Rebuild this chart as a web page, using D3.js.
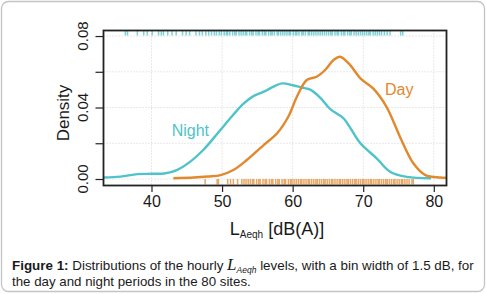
<!DOCTYPE html>
<html>
<head>
<meta charset="utf-8">
<script src="https://cdn.jsdelivr.net/npm/d3@7"></script>
<style>
  html, body { margin: 0; padding: 0; background: #fff; }
  svg { display: block; }
</style>
</head>
<body>
<svg id="chart" width="486" height="294"></svg>
<script>
(function () {
  'use strict';

  // axis ticks
  const xTicks = [40, 50, 60, 70, 80];
  const yTicks = [0, 0.02, 0.04, 0.06, 0.08];
  const yTickLabels = ['0.00', '', '0.04', '', '0.08'];

  // density curves: [dB, density]
  const nightDensity = [
    [33.2, 0.0008], [35.6, 0.0013], [38.0, 0.0027], [40.0, 0.0029], [41.8, 0.0031],
    [43.6, 0.0050], [45.5, 0.0097], [47.4, 0.0165], [49.5, 0.0262], [51.5, 0.0355],
    [53.0, 0.0420], [54.5, 0.0465], [56.0, 0.0490], [56.8, 0.0507], [58.5, 0.0535],
    [59.9, 0.0526], [61.3, 0.0512], [62.5, 0.0500], [63.9, 0.0455], [65.3, 0.0392],
    [67.2, 0.0340], [68.1, 0.0290], [69.6, 0.0200], [71.9, 0.0116], [73.8, 0.0041],
    [76.2, 0.0012], [79.6, 0.0004]
  ];
  const dayDensity = [
    [43.1, 0.0004], [46.0, 0.0008], [48.0, 0.0014], [49.8, 0.0022], [51.6, 0.0050],
    [53.5, 0.0106], [55.9, 0.0190], [57.8, 0.0256], [59.4, 0.0350], [60.6, 0.0460],
    [62.0, 0.0554], [63.4, 0.0572], [64.6, 0.0610], [65.8, 0.0666], [66.7, 0.0684],
    [68.1, 0.0640], [69.6, 0.0563], [71.4, 0.0507], [73.3, 0.0404], [75.2, 0.0237],
    [77.1, 0.0088], [78.8, 0.0022], [80.9, 0.0008], [81.8, 0.0006]
  ];

  // hourly levels shown as rugs (night on top, day at bottom)
  const nightRug = [
    36.3, 36.6, 38.0, 38.9, 39.4, 40.1, 41.0, 41.4, 41.7, 42.3, 42.9, 43.5, 44.4, 44.9,
    45.4, 46.3, 46.8, 47.2, 47.7, 48.1, 48.5, 48.9, 49.2, 49.6, 49.9, 50.3, 50.6, 50.8,
    51.1, 51.5, 51.8, 52.0, 52.4, 52.7, 53.0, 53.3, 53.5, 53.9, 54.2, 54.4, 54.8, 55.1,
    55.3, 55.7, 56.0, 56.2, 56.6, 56.9, 57.1, 57.4, 57.8, 58.0, 58.3, 58.6, 58.9, 59.2,
    59.5, 59.7, 60.1, 60.4, 60.6, 60.9, 61.3, 61.5, 61.8, 62.2, 62.4, 62.7, 63.0, 63.3,
    63.6, 63.9, 64.2, 64.5, 64.8, 65.1, 65.4, 65.6, 66.0, 66.3, 66.5, 66.9, 67.2, 67.4,
    67.8, 68.1, 68.3, 68.7, 69.0, 69.3, 69.6, 69.9, 70.2, 70.5, 70.8, 71.0, 71.4, 71.7,
    72.0, 72.3, 72.6, 73.0, 73.4, 73.8, 75.3, 75.6
  ];
  const dayRug = [
    47.6, 49.3, 49.5, 50.8, 51.2, 51.6, 52.2, 52.8, 53.1, 53.4, 53.7, 54.0, 54.3, 54.5,
    54.9, 55.2, 55.4, 55.8, 56.1, 56.3, 56.7, 57.0, 57.2, 57.6, 57.9, 58.1, 58.5, 58.8,
    59.0, 59.4, 59.7, 59.9, 60.2, 60.5, 60.8, 61.1, 61.3, 61.6, 61.9, 62.2, 62.4, 62.7,
    63.0, 63.3, 63.5, 63.8, 64.1, 64.4, 64.6, 64.9, 65.2, 65.5, 65.7, 66.0, 66.3, 66.6,
    66.8, 67.1, 67.4, 67.7, 67.9, 68.2, 68.5, 68.8, 69.0, 69.3, 69.6, 69.9, 70.1, 70.4,
    70.7, 71.0, 71.2, 71.5, 71.8, 72.1, 72.3, 72.6, 72.9, 73.2, 73.4, 73.7, 74.0, 74.3,
    74.5, 74.8, 75.1, 75.4, 75.6, 75.9, 76.2, 76.5, 76.9, 77.1
  ];

  // series labels: [name, dB, density at baseline]
  const seriesLabels = [['Night', 45.5, 0.0238], ['Day', 75.1, 0.0470]];

  const nightColor = '#4fc3c9';
  const dayColor = '#e1892c';

  const svg = d3.select('#chart');
  const plot = { left: 103.5, right: 446.5, top: 30.5, bottom: 185.5 };

  const x = d3.scaleLinear().domain([33.2, 81.8]).range([plot.left, plot.right]);
  const y = d3.scaleLinear().domain([-0.00364, 0.0831]).range([plot.bottom, plot.top]);

  // outer frame
  svg.append('rect')
    .attr('x', 1.5).attr('y', 1.5)
    .attr('width', 483).attr('height', 290)
    .attr('rx', 7)
    .attr('fill', '#fff')
    .attr('stroke', '#c4c4c4')
    .attr('stroke-width', 1.3);

  svg.append('clipPath').attr('id', 'plot-clip')
    .append('rect')
    .attr('x', plot.left).attr('y', plot.top)
    .attr('width', plot.right - plot.left).attr('height', plot.bottom - plot.top);

  // dotted grid
  const grid = svg.append('g')
    .attr('stroke', '#d2d2d2')
    .attr('stroke-width', 1)
    .attr('stroke-dasharray', '1,2');
  grid.selectAll('line.gx').data(xTicks).join('line')
    .attr('class', 'gx')
    .attr('x1', d => x(d)).attr('x2', d => x(d))
    .attr('y1', plot.top).attr('y2', plot.bottom);
  grid.selectAll('line.gy').data(yTicks).join('line')
    .attr('class', 'gy')
    .attr('x1', plot.left).attr('x2', plot.right)
    .attr('y1', d => y(d)).attr('y2', d => y(d));

  const body = svg.append('g').attr('clip-path', 'url(#plot-clip)');

  // rugs
  body.append('g')
    .attr('stroke', nightColor)
    .attr('stroke-opacity', 0.75)
    .attr('stroke-width', 1.5)
    .selectAll('line').data(nightRug).join('line')
    .attr('x1', d => x(d)).attr('x2', d => x(d))
    .attr('y1', plot.top).attr('y2', plot.top + 5);
  body.append('g')
    .attr('stroke', dayColor)
    .attr('stroke-opacity', 0.75)
    .attr('stroke-width', 1.5)
    .selectAll('line').data(dayRug).join('line')
    .attr('x1', d => x(d)).attr('x2', d => x(d))
    .attr('y1', plot.bottom - 6.5).attr('y2', plot.bottom - 1);

  // density lines
  const line = d3.line()
    .x(d => x(d[0]))
    .y(d => y(d[1]))
    .curve(d3.curveCatmullRom.alpha(0.5));

  body.append('path')
    .datum(nightDensity)
    .attr('d', line)
    .attr('fill', 'none')
    .attr('stroke', nightColor)
    .attr('stroke-width', 2.4)
    .attr('stroke-linejoin', 'round');
  body.append('path')
    .datum(dayDensity)
    .attr('d', line)
    .attr('fill', 'none')
    .attr('stroke', dayColor)
    .attr('stroke-width', 2.4)
    .attr('stroke-linejoin', 'round');

  svg.append('g').selectAll('text').data(seriesLabels).join('text')
    .attr('x', d => x(d[1]))
    .attr('y', d => y(d[2]))
    .attr('text-anchor', 'middle')
    .attr('font-family', 'Liberation Sans, Arial, sans-serif')
    .attr('font-size', 16)
    .attr('fill', (d, i) => i === 0 ? nightColor : dayColor)
    .text(d => d[0]);

  // box
  svg.append('rect')
    .attr('x', plot.left).attr('y', plot.top)
    .attr('width', plot.right - plot.left).attr('height', plot.bottom - plot.top)
    .attr('fill', 'none')
    .attr('stroke', '#222')
    .attr('stroke-width', 1.8);

  // x axis
  const xAxis = svg.append('g')
    .attr('transform', 'translate(0,' + plot.bottom + ')')
    .call(d3.axisBottom(x).tickValues(xTicks).tickSize(6.5).tickPadding(4));
  xAxis.select('.domain').remove();
  xAxis.selectAll('line').attr('stroke', '#222').attr('stroke-width', 1.2);
  xAxis.selectAll('text')
    .attr('font-family', 'Liberation Sans, Arial, sans-serif')
    .attr('font-size', 16)
    .attr('fill', '#1a1a1a');

  // y axis, rotated labels like base R
  const yAxis = svg.append('g')
    .attr('transform', 'translate(' + plot.left + ',0)')
    .call(d3.axisLeft(y).tickValues(yTicks).tickSize(8).tickFormat(''));
  yAxis.select('.domain').remove();
  yAxis.selectAll('line').attr('stroke', '#222').attr('stroke-width', 1.2);
  svg.append('g').selectAll('text').data(yTicks).join('text')
    .attr('transform', d => 'translate(88,' + y(d) + ') rotate(-90)')
    .attr('text-anchor', 'middle')
    .attr('font-family', 'Liberation Sans, Arial, sans-serif')
    .attr('font-size', 15)
    .attr('fill', '#1a1a1a')
    .text((d, i) => yTickLabels[i]);

  // axis titles
  svg.append('text')
    .attr('transform', 'translate(69,113) rotate(-90)')
    .attr('text-anchor', 'middle')
    .attr('font-family', 'Liberation Sans, Arial, sans-serif')
    .attr('font-size', 17)
    .attr('fill', '#1a1a1a')
    .text('Density');

  const xTitle = svg.append('text')
    .attr('x', 277).attr('y', 235)
    .attr('text-anchor', 'middle')
    .attr('font-family', 'Liberation Sans, Arial, sans-serif')
    .attr('font-size', 18)
    .attr('fill', '#1a1a1a');
  xTitle.append('tspan').text('L');
  xTitle.append('tspan').attr('dy', 3).attr('font-size', 10).text('Aeqh');
  xTitle.append('tspan').attr('dy', -3).text(' [dB(A)]');

  // caption
  const capFont = 'Liberation Sans, Arial, sans-serif';
  const cap1 = svg.append('text')
    .attr('x', 12).attr('y', 270)
    .attr('font-family', capFont)
    .attr('font-size', 13.4)
    .attr('fill', '#1a1a1a');
  cap1.append('tspan').attr('font-weight', 'bold').text('Figure 1:');
  cap1.append('tspan').text(' Distributions of the hourly ');
  cap1.append('tspan')
    .attr('font-family', 'Liberation Serif, Times New Roman, serif')
    .attr('font-style', 'italic')
    .attr('font-size', 17)
    .text('L');
  cap1.append('tspan')
    .attr('dy', 3)
    .attr('font-style', 'italic')
    .attr('font-size', 8.5)
    .text('Aeqh');
  cap1.append('tspan').attr('dy', -3).text('  levels, with a bin width of 1.5 dB, for');

  svg.append('text')
    .attr('x', 12).attr('y', 285.5)
    .attr('font-family', capFont)
    .attr('font-size', 13.3)
    .attr('fill', '#1a1a1a')
    .text('the day and night periods in the 80 sites.');
})();
</script>
</body>
</html>
